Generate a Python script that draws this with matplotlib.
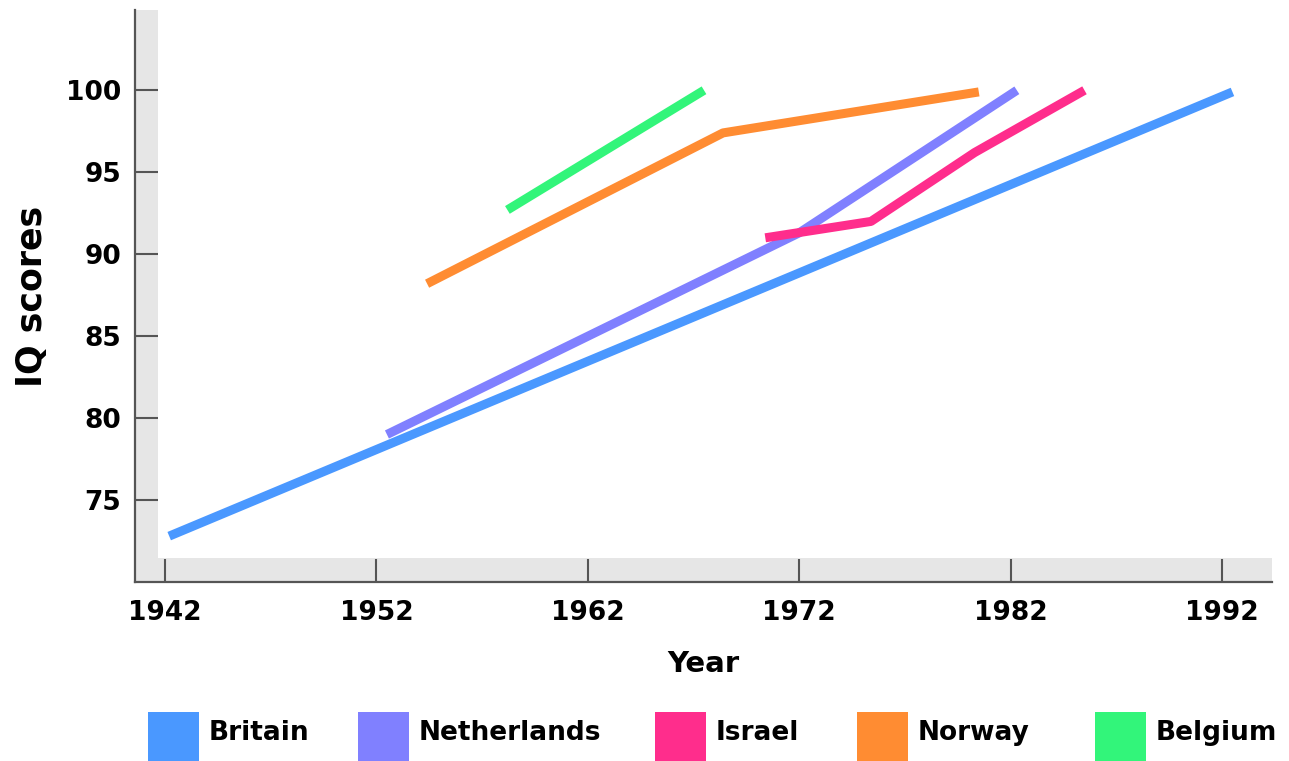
import matplotlib
matplotlib.use("Agg")
import matplotlib.pyplot as plt
from matplotlib.patches import Rectangle

plt.rcParams['font.family'] = ['DejaVu Sans']
plt.rcParams['font.weight'] = 'bold'

# IQ score series per country (year, score)
britain_years = [1942.2, 1992.5]
britain_iq = [72.8, 99.9]

netherlands_years = [1952.5, 1972.0, 1982.3]
netherlands_iq = [79.0, 91.3, 100.0]

israel_years = [1970.4, 1975.4, 1980.3, 1985.5]
israel_iq = [91.0, 92.0, 96.2, 100.0]

norway_years = [1954.4, 1968.4, 1980.5]
norway_iq = [88.2, 97.4, 99.9]

belgium_years = [1958.2, 1967.5]
belgium_iq = [92.7, 100.0]

countries = ["Britain", "Netherlands", "Israel", "Norway", "Belgium"]
colors = ["#4a98ff", "#8080ff", "#ff2d8c", "#ff8c32", "#32f57a"]

year_ticks = [1942, 1952, 1962, 1972, 1982, 1992]
iq_ticks = [75, 80, 85, 90, 95, 100]

series = [
    (britain_years, britain_iq),
    (netherlands_years, netherlands_iq),
    (israel_years, israel_iq),
    (norway_years, norway_iq),
    (belgium_years, belgium_iq),
]

fig = plt.figure(figsize=(12.89, 7.61), dpi=100)
ax = fig.add_axes([0.1047, 0.2352, 0.9868 - 0.1047, 0.9869 - 0.2352])

axis_col = "#555555"
band_col = "#e6e6e6"

# grey bands along the two axes
ax.add_patch(Rectangle((0, 0), 0.0202, 1, transform=ax.transAxes,
                       facecolor=band_col, edgecolor="none", zorder=0))
ax.add_patch(Rectangle((0, 0), 1, 0.042, transform=ax.transAxes,
                       facecolor=band_col, edgecolor="none", zorder=0))

for (xs, ys), c in zip(series, colors):
    ax.plot(xs, ys, color=c, lw=6.5, solid_capstyle="butt",
            solid_joinstyle="round", zorder=3)

ax.set_xlim(1940.58, 1994.37)
ax.set_ylim(70.0, 104.9)
ax.set_xticks(year_ticks)
ax.set_yticks(iq_ticks)
ax.set_xticklabels([str(y) for y in year_ticks], fontsize=19, fontweight="bold")
ax.set_yticklabels([str(v) for v in iq_ticks], fontsize=19, fontweight="bold")

ax.tick_params(axis="both", direction="in", length=16.5, width=1.5,
               color=axis_col)
ax.tick_params(axis="x", pad=13)
ax.tick_params(axis="y", pad=10)

for side in ["top", "right"]:
    ax.spines[side].set_visible(False)
for side in ["left", "bottom"]:
    ax.spines[side].set_color(axis_col)
    ax.spines[side].set_linewidth(1.6)

ax.set_xlabel("Year", fontsize=21, fontweight="bold", labelpad=17)
ax.set_ylabel("IQ scores", fontsize=25, fontweight="bold", labelpad=12)

# legend row along the bottom edge
patch_x = [148, 358, 655, 857, 1095]
W, H = 1289.0, 761.0
for name, c, px in zip(countries, colors, patch_x):
    fig.patches.append(Rectangle((px / W, 0), 51 / W, 49 / H,
                                 transform=fig.transFigure, facecolor=c,
                                 edgecolor="none"))
    fig.text((px + 61) / W, 1 - 733 / H, name, fontsize=19,
             fontweight="bold", va="center", ha="left")

fig.savefig("out.png", dpi=100)
